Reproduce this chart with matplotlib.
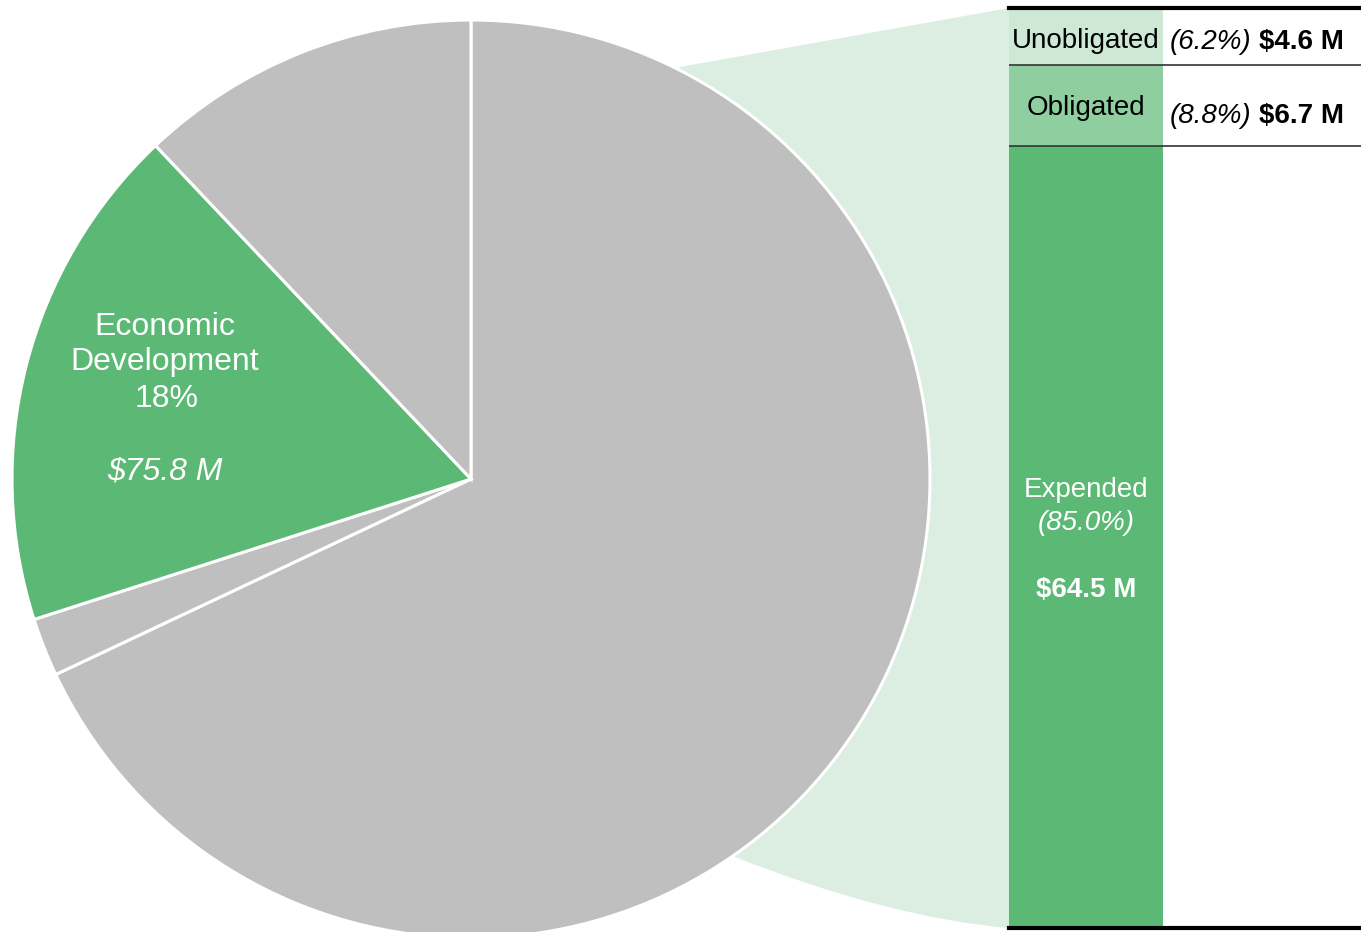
import matplotlib.pyplot as plt
from matplotlib.patches import PathPatch
from matplotlib.path import Path

plt.rcParams['font.family'] = ['Liberation Sans', 'DejaVu Sans']

# pie data ($M), clockwise from 12 o'clock
pie_vals = [288.1, 8.7, 75.8, 51.1]
pie_colors = ['#bfbfbf', '#bfbfbf', '#5cb975', '#bfbfbf']

# breakdown of the Economic Development slice
seg_names = ['Expended', 'Obligated', 'Unobligated']
seg_pct = [85.0, 8.8, 6.2]
seg_vals = ['$64.5 M', '$6.7 M', '$4.6 M']
seg_colors = ['#5cb975', '#8fce9f', '#cde9d6']

W, H = 1361, 932
fig = plt.figure(figsize=(W / 100, H / 100), dpi=100)

# background layer in pixel coords for the connector
bg = fig.add_axes([0, 0, 1, 1])
bg.set_xlim(0, W)
bg.set_ylim(H, 0)
bg.axis('off')
verts = [(680, 67), (1009, 8), (1009, 928), (890, 918), (735, 857), (471, 479), (680, 67)]
codes = [Path.MOVETO, Path.LINETO, Path.LINETO, Path.CURVE3, Path.CURVE3, Path.LINETO, Path.CLOSEPOLY]
bg.add_patch(PathPatch(Path(verts, codes), facecolor='#dbeee1', edgecolor='none'))

# pie
cx, cy, r = 471, 479, 459
pax = fig.add_axes([(cx - r) / W, (H - cy - r) / H, 2 * r / W, 2 * r / H])
pax.pie(pie_vals, colors=pie_colors, startangle=90, counterclock=False,
        wedgeprops=dict(edgecolor='white', linewidth=2.2))
pax.set_xlim(-1, 1)
pax.set_ylim(-1, 1)
pax.patch.set_alpha(0)

# pie label (placed in pixel coords, drawn on the pie axes)
lab = dict(color='white', fontsize=23, ha='center', va='baseline', transform=bg.transData)
pax.text(165, 335, 'Economic', **lab)
pax.text(165, 370, 'Development', **lab)
pax.text(167, 407, '18%', **lab)
pax.text(165, 480, '$75.8 M', style='italic', **lab)

# stacked bar
bx0, by0, bx1, by1 = 1009, 8, 1361, 928
bax = fig.add_axes([bx0 / W, (H - by1) / H, (bx1 - bx0) / W, (by1 - by0) / H])
bottom = 0
bounds = []
for name, p, c in zip(seg_names, seg_pct, seg_colors):
    bax.bar(0, p, bottom=bottom, width=154, align='edge', color=c, linewidth=0)
    bottom += p
    bounds.append(bottom)
bax.set_xlim(0, bx1 - bx0)
bax.set_ylim(0, 100)
bax.axis('off')
bax.axhline(0, color='black', lw=3, clip_on=False)
bax.axhline(100, color='black', lw=3, clip_on=False)
bax.axhline(bounds[0], color='#333333', lw=1.2)
bax.axhline(bounds[1], color='#333333', lw=1.2)

def ypx(y):
    # pixel row -> bar axis value
    return (by1 - y) / (by1 - by0) * 100

fs = 20
bax.text(77, ypx(497), 'Expended', color='white', fontsize=fs, ha='center', va='baseline')
bax.text(77, ypx(530), '(85.0%)', color='white', fontsize=fs, style='italic', ha='center', va='baseline')
bax.text(77, ypx(597), seg_vals[0], color='white', fontsize=fs, weight='bold', ha='center', va='baseline')

bax.text(77, ypx(115), 'Obligated', color='black', fontsize=fs, ha='center', va='baseline')
bax.text(161, ypx(123), '(%.1f%%)' % seg_pct[1], color='black', fontsize=fs, style='italic', ha='left', va='baseline')
bax.text(250, ypx(123), seg_vals[1], color='black', fontsize=fs, weight='bold', ha='left', va='baseline')

bax.text(77, ypx(48), 'Unobligated', color='black', fontsize=fs, ha='center', va='baseline')
bax.text(161, ypx(49), '(%.1f%%)' % seg_pct[2], color='black', fontsize=fs, style='italic', ha='left', va='baseline')
bax.text(250, ypx(49), seg_vals[2], color='black', fontsize=fs, weight='bold', ha='left', va='baseline')

fig.savefig('out.png', dpi=100)
